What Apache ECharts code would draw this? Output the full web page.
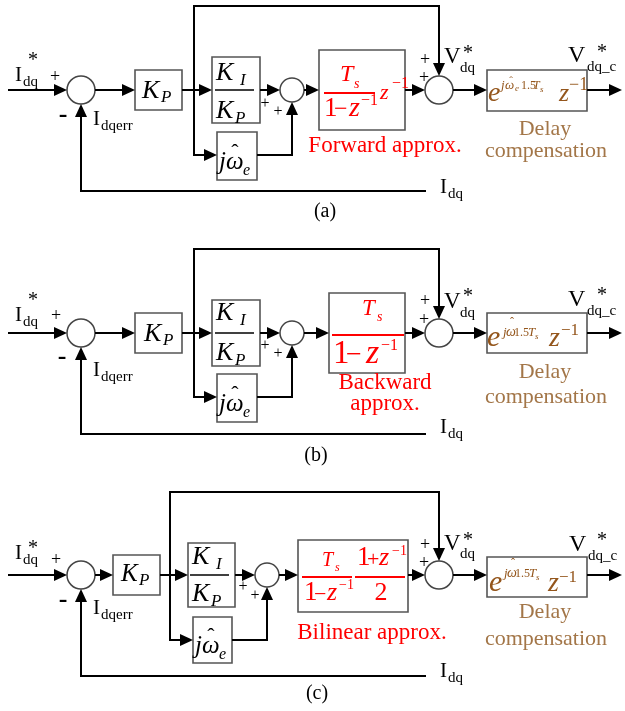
<!DOCTYPE html>
<html>
<head>
<meta charset="utf-8">
<script src="https://cdn.jsdelivr.net/npm/echarts@6/dist/echarts.min.js"></script>
<style>html,body{margin:0;padding:0;background:#fff;}#chart{width:625px;height:711px;}</style>
</head>
<body>
<div id="chart"></div>
<script>
// ---- diagram data (diagram units = page px) ----
const panelLabels = ['(a)', '(b)', '(c)'];

// signal wires: polyline points, last point gets an arrow
const wires = [
  // (a)
  [[8,90],[67,90]], [[95,90],[135,90]], [[182,90],[212,90]],
  [[194,90],[194,155],[217,155]], [[194,90],[194,6],[439,6],[439,76]],
  [[260,90],[280,90]], [[257,155],[292,155],[292,102]], [[304,90],[319,90]],
  [[405,90],[425,90]], [[453,90],[487,90]], [[587,90],[622,90]],
  [[426,191],[81,191],[81,104]],
  // (b)
  [[8,333],[67,333]], [[95,333],[135,333]], [[182,333],[212,333]],
  [[194,333],[194,397],[217,397]], [[194,333],[194,249],[439,249],[439,319]],
  [[260,333],[280,333]], [[257,397],[292,397],[292,345]], [[304,333],[329,333]],
  [[405,333],[425,333]], [[453,333],[487,333]], [[587,333],[622,333]],
  [[426,434],[81,434],[81,347]],
  // (c)
  [[8,575],[67,575]], [[95,575],[113,575]], [[160,575],[188,575]],
  [[170,575],[170,640],[193,640]], [[170,575],[170,492],[439,492],[439,561]],
  [[235,575],[255,575]], [[232,640],[267,640],[267,587]], [[279,575],[298,575]],
  [[408,575],[425,575]], [[453,575],[487,575]], [[587,575],[622,575]],
  [[426,676],[81,676],[81,589]]
];

// fraction bars: [x0, x1, y, colorKey]
const fractionBars = [
  [215,254,90,'k'], [324,375,93,'r'],
  [215,254,333,'k'], [332,404,335,'r'],
  [190,229,575,'k'], [302,352,577,'r'], [355,405,577,'r']
];

// blocks: [x0, y0, x1, y1]
const blocks = [
  [135,70,182,110], [212,57,260,123], [217,132,257,180], [319,50,405,130], [487,70,587,111],
  [135,313,182,353], [212,300,260,366], [217,374,257,422], [329,293,405,373], [487,313,587,353],
  [113,555,160,595], [188,543,235,607], [193,617,232,663], [298,540,408,612], [487,557,587,597]
];

// summing junctions: [cx, cy, r]
const summers = [
  [81,90,14], [292,90,12], [439,90,14],
  [81,333,14], [292,333,12], [439,333,14],
  [81,575,14], [267,575,12], [439,575,14]
];

// texts: [string, x, baseline, size, face(n/i/b), colorKey, align]
const texts = [
  // ---------- (a) ----------
  ['I',15,82,21,'n','k','left'], ['dq',23,87,15,'n','k','left'], ['*',33,67,20,'n','k','center'],
  ['+',55,83,18,'n','k','center'], ['-',63,124,26,'b','k','center'],
  ['I',93,126,21,'n','k','left'], ['dqerr',101,131,15,'n','k','left'],
  ['K',142,100,26,'i','k','left'], ['P',161,103,17,'i','k','left'],
  ['K',216,82,26,'i','k','left'], ['I',240,86,17,'i','k','left'],
  ['K',216,120,26,'i','k','left'], ['P',235,124,17,'i','k','left'],
  ['j',219,171,25,'i','k','left'], ['ω',226,171,25,'i','k','left'], ['ˆ',235,160,22,'n','k','center'], ['e',243,176,16,'i','k','left'],
  ['+',265,109,16,'n','k','center'], ['+',278,117,16,'n','k','center'],
  ['T',340,83,24,'i','r','left'], ['s',354,89,14,'i','r','left'],
  ['1',324,118,27,'n','r','left'], ['−',334,118,24,'n','r','left'], ['z',349,118,28,'i','r','left'], ['−1',361,106,16,'n','r','left'],
  ['z',380,100,22,'i','r','left'], ['−1',392,89,16,'n','r','left'],
  ['Forward approx.',385,154,23,'n','r','center'],
  ['+',425,66,18,'n','k','center'], ['+',424,84,18,'n','k','center'],
  ['V',444,65,23,'n','k','left'], ['dq',460,73,15,'n','k','left'], ['*',468,60,20,'n','k','center'],
  ['e',488,103,28,'i','f','left'], ['j',501,90,13,'i','f','left'], ['ω',505,90,13,'i','f','left'], ['ˆ',511,85,11,'n','f','center'],
  ['e',515,92,9,'i','f','left'], ['1.5',521,90,12,'n','f','left'], ['T',533,90,12,'i','f','left'], ['s',540,93,9,'i','f','left'],
  ['z',559,103,26,'i','f','left'], ['−1',569,91,18,'n','f','left'],
  ['V',568,64,24,'n','k','left'], ['dq_c',587,72,15,'n','k','left'], ['*',602,59,20,'n','k','center'],
  ['Delay',545,136,22,'n','t','center'], ['compensation',546,158,22,'n','t','center'],
  ['I',440,194,21,'n','k','left'], ['dq',448,199,15,'n','k','left'],
  // ---------- (b) ----------
  ['I',15,322,21,'n','k','left'], ['dq',23,327,15,'n','k','left'], ['*',33,307,20,'n','k','center'],
  ['+',56,322,18,'n','k','center'], ['-',62,366,26,'b','k','center'],
  ['I',93,377,21,'n','k','left'], ['dqerr',101,382,15,'n','k','left'],
  ['K',144,343,26,'i','k','left'], ['P',163,346,17,'i','k','left'],
  ['K',216,322,26,'i','k','left'], ['I',240,326,17,'i','k','left'],
  ['K',216,362,26,'i','k','left'], ['P',235,366,17,'i','k','left'],
  ['j',219,413,25,'i','k','left'], ['ω',226,413,25,'i','k','left'], ['ˆ',235,402,22,'n','k','center'], ['e',243,418,16,'i','k','left'],
  ['+',265,351,16,'n','k','center'], ['+',278,359,16,'n','k','center'],
  ['T',362,317,23,'i','r','left'], ['s',377,322,14,'i','r','left'],
  ['1',333,365,33,'n','r','left'], ['−',346,365,28,'n','r','left'], ['z',366,365,34,'i','r','left'], ['−1',381,351,16,'n','r','left'],
  ['Backward',385,391,23,'n','r','center'], ['approx.',385,412,23,'n','r','center'],
  ['+',425,307,18,'n','k','center'], ['+',424,326,18,'n','k','center'],
  ['V',444,310,23,'n','k','left'], ['dq',460,318,15,'n','k','left'], ['*',468,303,20,'n','k','center'],
  ['e',487,348,30,'i','f','left'], ['j',503,337,13,'i','f','left'], ['ω',506,337,14,'i','f','left'], ['ˆ',512,327,12,'n','f','center'],
  ['1.5',514,337,12,'n','f','left'], ['T',528,337,13,'i','f','left'], ['s',535,340,9,'i','f','left'],
  ['z',549,348,28,'i','f','left'], ['−1',561,336,17,'n','f','left'],
  ['V',568,308,24,'n','k','left'], ['dq_c',587,316,15,'n','k','left'], ['*',602,302,20,'n','k','center'],
  ['Delay',545,379,22,'n','t','center'], ['compensation',546,404,22,'n','t','center'],
  ['I',440,434,21,'n','k','left'], ['dq',448,439,15,'n','k','left'],
  // ---------- (c) ----------
  ['I',15,560,21,'n','k','left'], ['dq',23,565,15,'n','k','left'], ['*',33,555,20,'n','k','center'],
  ['+',56,566,18,'n','k','center'], ['-',63,609,26,'b','k','center'],
  ['I',93,615,21,'n','k','left'], ['dqerr',101,620,15,'n','k','left'],
  ['K',121,583,25,'i','k','left'], ['P',139,586,17,'i','k','left'],
  ['K',192,566,26,'i','k','left'], ['I',216,570,17,'i','k','left'],
  ['K',192,603,26,'i','k','left'], ['P',211,607,17,'i','k','left'],
  ['j',195,655,25,'i','k','left'], ['ω',202,655,25,'i','k','left'], ['ˆ',211,644,22,'n','k','center'], ['e',219,660,16,'i','k','left'],
  ['+',243,592,16,'n','k','center'], ['+',255,601,16,'n','k','center'],
  ['T',322,567,20,'i','r','left'], ['s',335,572,12,'i','r','left'],
  ['1',304,602,27,'n','r','left'], ['−',314,602,22,'n','r','left'], ['z',327,602,26,'i','r','left'], ['−1',339,590,14,'n','r','left'],
  ['1',357,567,27,'n','r','left'], ['+',367,567,22,'n','r','left'], ['z',379,567,26,'i','r','left'], ['−1',392,556,14,'n','r','left'],
  ['2',381,602,26,'n','r','center'],
  ['Bilinear approx.',372,641,23,'n','r','center'],
  ['+',425,551,18,'n','k','center'], ['+',424,569,18,'n','k','center'],
  ['V',444,552,23,'n','k','left'], ['dq',460,559,15,'n','k','left'], ['*',468,547,20,'n','k','center'],
  ['e',489,593,30,'i','f','left'], ['j',504,578,13,'i','f','left'], ['ω',507,578,14,'i','f','left'], ['ˆ',513,568,12,'n','f','center'],
  ['1.5',515,578,12,'n','f','left'], ['T',529,578,13,'i','f','left'], ['s',536,581,9,'i','f','left'],
  ['z',548,593,28,'i','f','left'], ['−1',559,583,17,'n','f','left'],
  ['V',569,553,24,'n','k','left'], ['dq_c',588,561,15,'n','k','left'], ['*',602,547,20,'n','k','center'],
  ['Delay',545,619,22,'n','t','center'], ['compensation',546,646,22,'n','t','center'],
  ['I',440,678,21,'n','k','left'], ['dq',448,683,15,'n','k','left']
];

// panel caption positions: [x, baseline]
const captionPos = [[325,218],[316,462],[317,700]];

// ---- rendering ----
const COLORS = { k: '#000000', r: '#FF0000', f: '#94561C', t: '#A37648' };
const FAMILY = '"Liberation Serif", "Times New Roman", serif';
const allTexts = texts.concat(panelLabels.map((s, i) => [s, captionPos[i][0], captionPos[i][1], 20, 'n', 'k', 'center']));

function fontOf(face, size) {
  const st = face === 'i' ? 'italic ' : '';
  const wt = face === 'b' ? 'bold ' : '';
  return st + wt + size + 'px ' + FAMILY;
}

const chart = echarts.init(document.getElementById('chart'), null, { renderer: 'canvas' });
chart.setOption({
  animation: false,
  backgroundColor: '#ffffff',
  grid: { left: 0, right: 0, top: 0, bottom: 0 },
  xAxis: { type: 'value', min: 0, max: 625, show: false },
  yAxis: { type: 'value', min: 0, max: 711, inverse: true, show: false },
  series: [
    {
      type: 'custom', coordinateSystem: 'cartesian2d', clip: false,
      data: blocks.map(b => [b[0], b[1]]),
      renderItem: function (params, api) {
        const b = blocks[params.dataIndex];
        const p0 = api.coord([b[0], b[1]]), p1 = api.coord([b[2], b[3]]);
        return { type: 'rect', shape: { x: p0[0], y: p0[1], width: p1[0] - p0[0], height: p1[1] - p0[1] },
          style: { fill: '#ffffff', stroke: '#555555', lineWidth: 1.6 } };
      }
    },
    {
      type: 'custom', coordinateSystem: 'cartesian2d', clip: false,
      data: summers.map(s => [s[0], s[1]]),
      renderItem: function (params, api) {
        const s = summers[params.dataIndex];
        const c = api.coord([s[0], s[1]]);
        const r = api.size([s[2], 0])[0];
        return { type: 'circle', shape: { cx: c[0], cy: c[1], r: r },
          style: { fill: '#ffffff', stroke: '#444444', lineWidth: 1.5 } };
      }
    },
    {
      type: 'custom', coordinateSystem: 'cartesian2d', clip: false,
      data: wires.map(w => w[0]),
      renderItem: function (params, api) {
        const pts = wires[params.dataIndex].map(p => api.coord(p));
        const n = pts.length;
        const tip = pts[n - 1], prev = pts[n - 2];
        let dx = tip[0] - prev[0], dy = tip[1] - prev[1];
        const len = Math.hypot(dx, dy); dx /= len; dy /= len;
        const L = 13, W = 6;
        const base = [tip[0] - dx * L, tip[1] - dy * L];
        const linePts = pts.slice(0, n - 1).concat([base]);
        return { type: 'group', children: [
          { type: 'polyline', shape: { points: linePts }, style: { stroke: '#000', lineWidth: 2, fill: null } },
          { type: 'polygon', shape: { points: [tip, [base[0] - dy * W, base[1] + dx * W], [base[0] + dy * W, base[1] - dx * W]] },
            style: { fill: '#000', stroke: null } }
        ] };
      }
    },
    {
      type: 'custom', coordinateSystem: 'cartesian2d', clip: false,
      data: fractionBars.map(f => [f[0], f[2]]),
      renderItem: function (params, api) {
        const f = fractionBars[params.dataIndex];
        const a = api.coord([f[0], f[2]]), b = api.coord([f[1], f[2]]);
        return { type: 'line', shape: { x1: a[0], y1: a[1], x2: b[0], y2: b[1] },
          style: { stroke: COLORS[f[3]], lineWidth: f[3] === 'r' ? 1.8 : 1.3 } };
      }
    },
    {
      type: 'custom', coordinateSystem: 'cartesian2d', clip: false,
      data: allTexts.map(t => [t[1], t[2]]),
      renderItem: function (params, api) {
        const t = allTexts[params.dataIndex];
        const p = api.coord([t[1], t[2]]);
        const size = t[3];
        return { type: 'text', z2: 10,
          style: { text: t[0], x: p[0], y: p[1] - 0.33 * size, font: fontOf(t[4], size),
            fill: COLORS[t[5]], align: t[6], verticalAlign: 'middle', textAlign: t[6], textVerticalAlign: 'middle' } };
      }
    }
  ]
});
</script>
</body>
</html>
